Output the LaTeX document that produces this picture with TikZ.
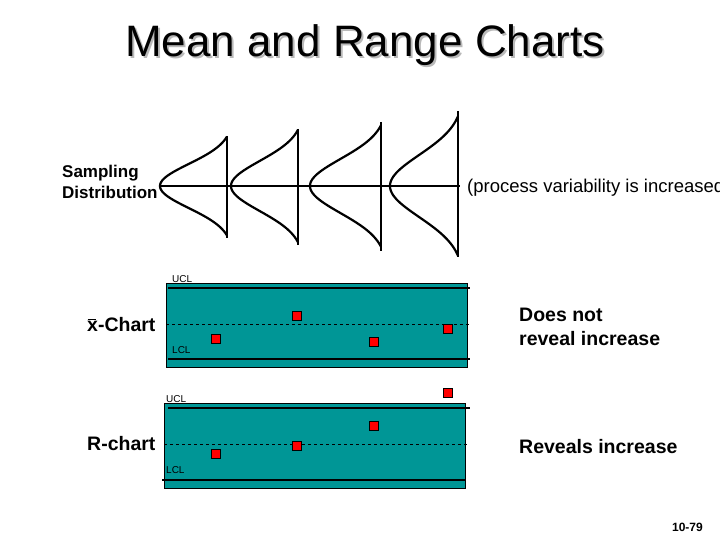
\documentclass[tikz,border=0pt]{standalone}
\usepackage{fontspec}
\setmainfont{Liberation Sans}
\begin{document}
\begin{tikzpicture}[x=1pt,y=-1pt,
  pt/.style={draw=black,fill=red,minimum size=9pt,inner sep=0pt,line width=0.6pt},
  lim/.style={line width=1.8pt},
  curve/.style={line width=2.2pt},
  lbl/.style={inner sep=0pt,anchor=west,font=\bfseries\fontsize{19.5}{24}\selectfont},
  mid/.style={inner sep=0pt,anchor=west,font=\fontsize{18.5}{22}\selectfont},
  small/.style={inner sep=0pt,anchor=west,font=\fontsize{10}{12}\selectfont}]
\useasboundingbox (0,0) rectangle (720,540);
\clip (0,0) rectangle (720,540);
\node[text=gray!55] (shadow) at (367,47) {\fontsize{44}{50}\selectfont Mean and Range Charts};
\node (title) at (365,45) {\fontsize{44}{50}\selectfont Mean and Range Charts};
% distributions
\draw[line width=1.3pt] (160,186) coordinate (hl) -- (460,186) coordinate (hr);
\foreach \x/\w/\s/\ya/\yb in {160/67/22/136/238, 231/67/25/129/245, 310/71/27/122/251, 390/68/31/111/257}{
  \draw[curve] plot[domain=-2.25:2.25,samples=80,smooth,variable=\t] ({\x+\w*(1-exp(-0.5*\t*\t))/(1-exp(-0.5*2.25*2.25))},{186+\s*\t});
  \draw[line width=2.2pt] (\x+\w,\ya) -- (\x+\w,\yb);
}
\node[inner sep=0pt,anchor=west,align=left,font=\bfseries\fontsize{17}{21}\selectfont] (sd) at (62,182) {Sampling\\Distribution};
\node[mid] (pv) at (467,188) {(process variability is increased)};
% x chart
\fill[fill={rgb,255:red,0;green,150;blue,150},draw=black,line width=0.8pt] (166,283) rectangle (467,367);
\draw[line width=1.3pt] (168,288) -- (376,288);
\draw[lim] (376,288) -- (470,288);
\draw[line width=1.3pt] (168,359) -- (376,359);
\draw[lim] (376,359) -- (470,359);
\draw[dashed,line width=0.6pt] (166,324) -- (470,324);
\node[pt] (a1) at (216,339) {};
\node[pt] (a2) at (297,316) {};
\node[pt] (a3) at (374,342) {};
\node[pt] (a4) at (448,329) {};
\node[small] (u1) at (172,279) {UCL};
\node[small] (l1) at (172,350) {LCL};
\node[lbl] (xc) at (87,325) {x\llap{\raisebox{1.2ex}{\rule{0.45em}{0.07ex}}\hspace{0.08em}}-Chart};
\node[lbl,align=left] (dn) at (519,327) {Does not\\reveal increase};
% R chart
\fill[fill={rgb,255:red,0;green,150;blue,150},draw=black,line width=0.8pt] (164,403) rectangle (465,488);
\draw[line width=1.3pt] (168,408) -- (470,408);
\draw[line width=1.3pt] (162,480) -- (465,480);
\draw[dashed,line width=0.6pt] (164,444) -- (468,444);
\node[pt] (b1) at (216,454) {};
\node[pt] (b2) at (297,446) {};
\node[pt] (b3) at (374,426) {};
\node[pt] (b4) at (448,393) {};
\node[small] (u2) at (166,399) {UCL};
\node[small] (l2) at (166,470) {LCL};
\node[lbl] (rc) at (87,444) {R-chart};
\node[lbl] (ri) at (519,447) {Reveals increase};
\node[inner sep=0pt,anchor=east,font=\bfseries\fontsize{12}{14}\selectfont] (pg) at (703,527) {10-79};
\end{tikzpicture}
\end{document}
